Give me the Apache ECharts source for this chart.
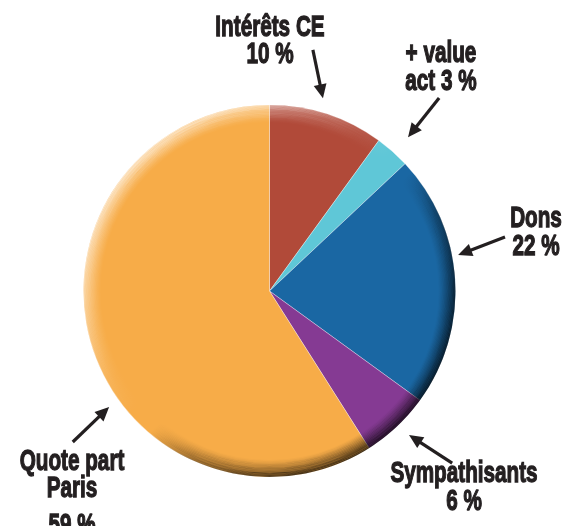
<!DOCTYPE html>
<html><head><meta charset="utf-8">
<script src="https://cdn.jsdelivr.net/npm/echarts@6/dist/echarts.min.js"></script>
<style>html,body{margin:0;padding:0;background:#fff}#c{width:565px;height:526px}</style>
</head><body><div id="c"></div>
<script>
// ---- data ----
const categories = ['Intérêts CE', '+ value act', 'Dons', 'Sympathisants', 'Quote part Paris'];
const values = [10, 3, 22, 6, 59];
const colors = ['#B14A39', '#5FC7D7', '#1A67A3', '#853A93', '#F7AC48'];

// ---- layout ----
const CX = 269.5, CY = 291, R = 186;
const TEXT_COLOR = '#231f20';
const FONT = 'bold 30px "Liberation Sans", Arial, sans-serif';
const labelLayout = [
  {x: 270, ys: [28, 55], lines: (n, v) => [n, v + ' %'], tail: [10.2, 245], tip: [15.5, 200]},
  {x: 441, ys: [54, 82], lines: (n, v) => { const w = n.split(' '); return [w[0] + ' ' + w[1], w[2] + ' ' + v + ' %']; }, tail: [41.3, 257], tip: [42, 207]},
  {x: 536, ys: [219, 247], lines: (n, v) => [n, v + ' %'], tail: [77.1, 241.6], tip: [79.2, 192]},
  {x: 464, ys: [474, 502], lines: (n, v) => [n, v + ' %'], tail: [133.3, 251], tip: [135.9, 200.5]},
  {x: 72, ys: [462, 489, 526], lines: (n, v) => { const w = n.split(' '); return [w[0] + ' ' + w[1], w[2], v + ' %']; }, tail: [232.5, 248], tip: [234.1, 198]}
];

function polar(angDeg, r) {
  const a = angDeg * Math.PI / 180;
  return [CX + r * Math.sin(a), CY - r * Math.cos(a)];
}

const chart = echarts.init(document.getElementById('c'), null, {renderer: 'canvas'});

const series = [{
  type: 'pie',
  center: [CX, CY],
  radius: [0, R],
  startAngle: 90,
  clockwise: true,
  silent: true,
  label: {show: false},
  labelLine: {show: false},
  itemStyle: {borderColor: 'rgba(255,255,255,0.55)', borderWidth: 0.6},
  data: categories.map((c, i) => ({name: c, value: values[i], itemStyle: {color: colors[i]}})),
  z: 1
}];

// bevel shading rings
const N = 14, BW = 17;
for (let k = 0; k < N; k++) {
  const inner = R - BW + k * BW / N;
  const outer = inner + BW / N + 0.15;
  const m = Math.pow((k + 1) / N, 1.3);
  series.push({
    type: 'pie',
    center: [CX, CY],
    radius: [inner, Math.min(outer, R)],
    silent: true,
    label: {show: false},
    labelLine: {show: false},
    itemStyle: {
      color: {
        type: 'linear', x: 0, y: 0, x2: 1, y2: 1,
        colorStops: [
          {offset: 0.146, color: 'rgba(255,255,255,' + (0.68 * m) + ')'},
          {offset: 0.25, color: 'rgba(255,255,255,' + (0.48 * m) + ')'},
          {offset: 0.40, color: 'rgba(255,255,255,' + (0.1 * m) + ')'},
          {offset: 0.48, color: 'rgba(255,255,255,0)'},
          {offset: 0.53, color: 'rgba(0,0,0,0)'},
          {offset: 0.62, color: 'rgba(0,0,0,' + (0.38 * m) + ')'},
          {offset: 0.75, color: 'rgba(0,0,0,' + (0.64 * m) + ')'},
          {offset: 0.854, color: 'rgba(0,0,0,' + (0.75 * m) + ')'}
        ]
      }
    },
    data: [{value: 1, name: 'bevel'}],
    z: 2
  });
}

// labels & arrows
const elements = [];
categories.forEach((name, i) => {
  const L = labelLayout[i];
  const lines = L.lines(name, values[i]);
  lines.forEach((t, j) => {
    elements.push({
      type: 'text', x: L.x, y: L.ys[j], scaleX: 0.69, z: 100,
      style: {text: t, font: FONT, fill: TEXT_COLOR, stroke: TEXT_COLOR, lineWidth: 1.3,
              textAlign: 'center', textVerticalAlign: 'middle'}
    });
  });
  const tail = polar(L.tail[0], L.tail[1]);
  const tip = polar(L.tip[0], L.tip[1]);
  const dx = tip[0] - tail[0], dy = tip[1] - tail[1];
  const len = Math.hypot(dx, dy);
  const ux = dx / len, uy = dy / len;
  const HL = 14, HW = 6.5;
  const bx = tip[0] - ux * HL, by = tip[1] - uy * HL;
  elements.push({
    type: 'line', z: 100,
    shape: {x1: tail[0], y1: tail[1], x2: bx + ux * 2, y2: by + uy * 2},
    style: {stroke: TEXT_COLOR, lineWidth: 3.2}
  });
  elements.push({
    type: 'polygon', z: 100,
    shape: {points: [tip, [bx - uy * HW, by + ux * HW], [bx + uy * HW, by - ux * HW]]},
    style: {fill: TEXT_COLOR}
  });
});

chart.setOption({
  animation: false,
  backgroundColor: '#ffffff',
  series: series,
  graphic: {elements: elements}
});
</script>
</body></html>
